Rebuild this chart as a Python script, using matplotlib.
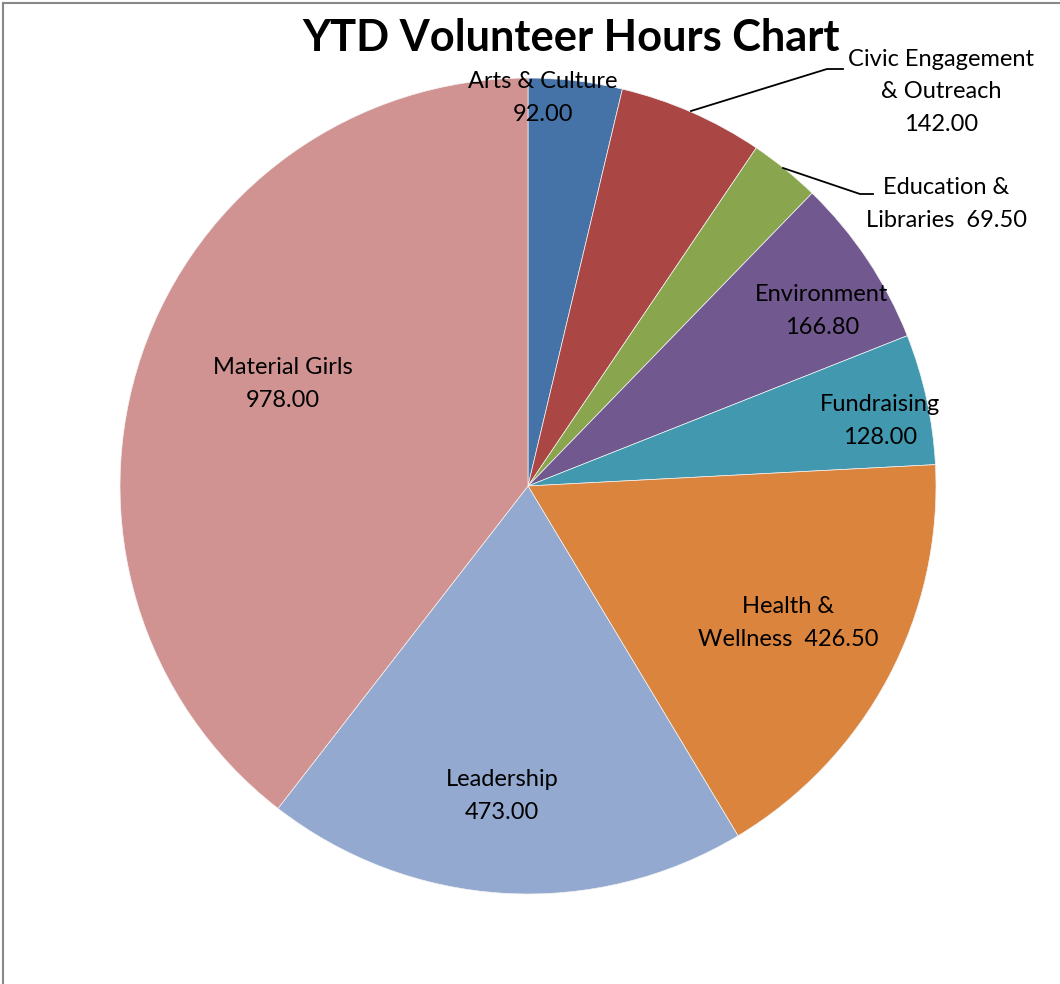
import matplotlib.pyplot as plt
from matplotlib.lines import Line2D

# data
categories = ["Arts & Culture", "Civic Engagement & Outreach", "Education & Libraries",
              "Environment", "Fundraising", "Health & Wellness", "Leadership", "Material Girls"]
hours = [92.00, 142.00, 69.50, 166.80, 128.00, 426.50, 473.00, 978.00]
# how Excel wrapped each label ("{v}" is the value)
label_fmt = ["Arts & Culture\n{v}", "Civic Engagement\n& Outreach\n{v}", "Education &\nLibraries  {v}",
             "Environment\n{v}", "Fundraising\n{v}", "Health &\nWellness  {v}",
             "Leadership\n{v}", "Material Girls\n{v}"]
colors = ["#4572A7", "#AA4643", "#89A54E", "#71588F", "#4198AF", "#DB843D", "#93A9CF", "#D19392"]

W, H = 1060, 984
def py(y):
    # pixel row (from top) -> data y
    return H - y

plt.rcParams['font.family'] = ['Lato', 'DejaVu Sans']

fig = plt.figure(figsize=(W / 100, H / 100), dpi=100)
ax = fig.add_axes([0, 0, 1, 1])

cx, cy, r = 528, 486, 408
ax.pie(hours, colors=colors, startangle=90, counterclock=False,
       center=(cx, py(cy)), radius=r,
       wedgeprops=dict(edgecolor='#f4f4f4', linewidth=0.5))
ax.set_xlim(0, W)
ax.set_ylim(0, H)
ax.set_aspect('equal')
ax.axis('off')

# label positions (pixel centers)
label_pos = [(543, 98), (941, 92), (946, 204), (822, 311), (880, 421),
             (788, 623), (502, 796), (283, 384)]
for fmt, v, (x, y) in zip(label_fmt, hours, label_pos):
    ax.text(x, py(y), fmt.format(v=f"{v:.2f}"), ha='center', va='center',
            fontsize=17, linespacing=1.68, color='black')

# leader lines
ax.plot([691, 827, 843], [py(111), py(69), py(69)], color='black', lw=1.3)
ax.plot([783, 860, 873], [py(168), py(194), py(194)], color='black', lw=1.3)

ax.text(571, py(38), "YTD Volunteer Hours Chart", ha='center', va='center',
        fontsize=31.2, fontweight='bold')

# chart border (only top/left visible in crop)
fig.add_artist(Line2D([2.5 / W, 2.5 / W], [0, 1 - 2.5 / H], transform=fig.transFigure,
                      color='#888888', lw=1.5))
fig.add_artist(Line2D([2.5 / W, 1], [1 - 2.5 / H, 1 - 2.5 / H], transform=fig.transFigure,
                      color='#888888', lw=1.5))

fig.savefig("out.png", dpi=100)
